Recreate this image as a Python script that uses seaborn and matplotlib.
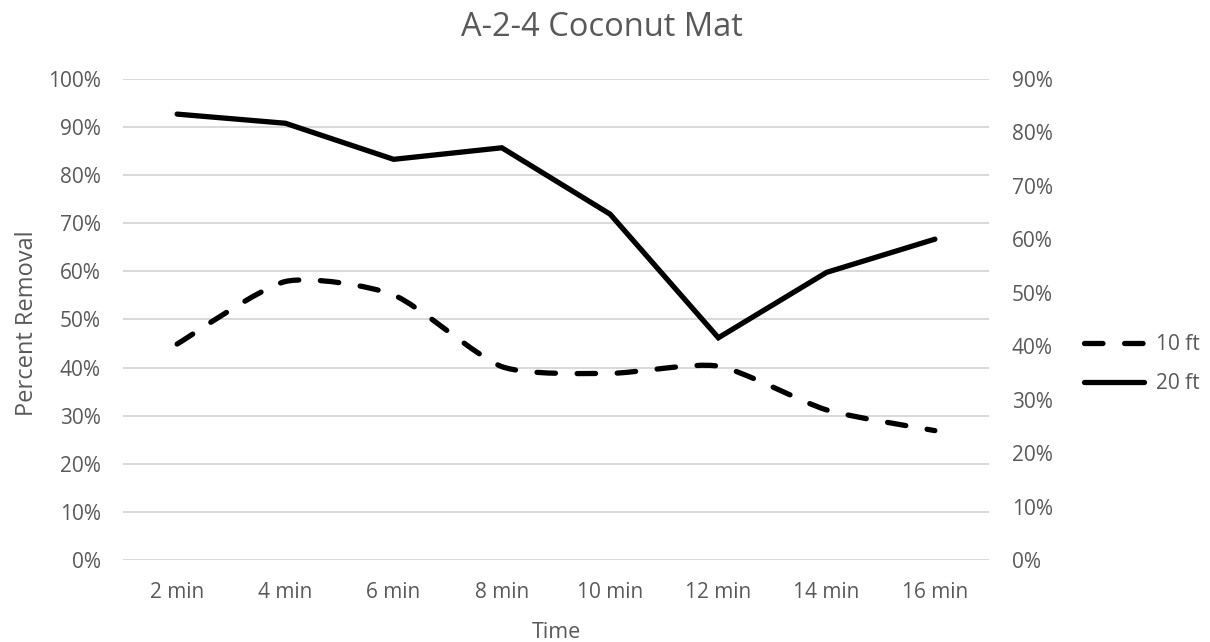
import numpy as np
import pandas as pd
import matplotlib
matplotlib.use("Agg")
import matplotlib.pyplot as plt
from matplotlib.path import Path
from matplotlib.patches import PathPatch
from matplotlib.lines import Line2D
from matplotlib.ticker import PercentFormatter, MultipleLocator
import seaborn as sns

# ---- data ----
times = ["2 min", "4 min", "6 min", "8 min", "10 min", "12 min", "14 min", "16 min"]
removal_10ft = [0.449, 0.579, 0.551, 0.402, 0.388, 0.403, 0.312, 0.269]
removal_20ft = [0.927, 0.908, 0.833, 0.857, 0.719, 0.462, 0.598, 0.667]
series_names = ["10 ft", "20 ft"]

sns.set_theme(style="white")
plt.rcParams['font.family'] = ['Open Sans', 'DejaVu Sans']

TXT = "#595959"
GRID = "#d9d9d9"
LW = 3.8
DASH = (0, (3.5, 4.1))
FS = 15

W, H = 1210, 642
L, R, T, B = 123, 989, 79, 560
fig = plt.figure(figsize=(W / 100, H / 100), dpi=100)
ax = fig.add_axes([L / W, 1 - B / H, (R - L) / W, (B - T) / H])

df = pd.DataFrame({"Time": times, "pos": np.arange(len(times)),
                   "r10": removal_10ft, "r20": removal_20ft})

# solid line (20 ft)
sns.lineplot(data=df, x="pos", y="r20", ax=ax, color="black", linewidth=LW,
             solid_capstyle="round", solid_joinstyle="miter", legend=False)

# smoothed dashed line (10 ft) - Bezier smoothing between the data points
xs = df["pos"].to_numpy(dtype=float)
ys = df["r10"].to_numpy(dtype=float)
P = np.column_stack([xs, ys])
verts = [tuple(P[0])]
codes = [Path.MOVETO]
n = len(P)
k = 1.0 / 9.0
for i in range(n - 1):
    p0 = P[i - 1] if i > 0 else P[i]
    p1 = P[i]
    p2 = P[i + 1]
    p3 = P[i + 2] if i + 2 < n else P[i + 1]
    c1 = p1 + (p2 - p0) * k
    c2 = p2 - (p3 - p1) * k
    verts += [tuple(c1), tuple(c2), tuple(p2)]
    codes += [Path.CURVE4] * 3
patch = PathPatch(Path(verts, codes), facecolor="none", edgecolor="black",
                  linewidth=LW, linestyle=DASH, capstyle="round",
                  joinstyle="round", transform=ax.transData)
ax.add_patch(patch)

ax.set_xlim(-0.5, len(times) - 0.5)
ax.set_ylim(0, 1.0)
ax.set_xticks(df["pos"])
ax.set_xticklabels(times)
ax.yaxis.set_major_locator(MultipleLocator(0.1))
ax.yaxis.set_major_formatter(PercentFormatter(1.0, decimals=0))
ax.grid(axis="y", color=GRID, linewidth=1.4)
ax.grid(axis="x", visible=False)
for s in ax.spines.values():
    s.set_visible(False)
ax.tick_params(axis="both", length=0, labelsize=FS, colors=TXT)
ax.tick_params(axis="x", pad=16)
ax.tick_params(axis="y", pad=16)

ax.set_xlabel("Time", fontsize=15.5, color=TXT)
ax.xaxis.label.set_va("baseline")
ax.xaxis.set_label_coords(0.5, (B - 638) / (B - T))
ax.set_ylabel("Percent Removal", fontsize=17, color=TXT)
ax.yaxis.label.set_va("baseline")
ax.yaxis.set_label_coords((33 - L) / (R - L), (B - 323) / (B - T))

ax2 = ax.twinx()
ax2.set_ylim(0, 0.9)
ax2.yaxis.set_major_locator(MultipleLocator(0.1))
ax2.yaxis.set_major_formatter(PercentFormatter(1.0, decimals=0))
ax2.grid(False)
for s in ax2.spines.values():
    s.set_visible(False)
ax2.tick_params(axis="y", length=0, labelsize=FS, colors=TXT, pad=16.5)

fig.text(602 / W, 1 - 36 / H, "A-2-4 Coconut Mat", ha="center", va="baseline",
         fontsize=23.5, color=TXT)

handles = [Line2D([], [], color="black", linewidth=LW, linestyle=DASH,
                  dash_capstyle="round"),
           Line2D([], [], color="black", linewidth=LW, solid_capstyle="round")]
leg = fig.legend(handles, series_names, loc="center left",
                 bbox_to_anchor=(1084 / W, 1 - 364 / H), frameon=False,
                 fontsize=FS, handlelength=2.9, handletextpad=0.55,
                 labelspacing=0.85, borderpad=0, borderaxespad=0,
                 labelcolor=TXT)

fig.savefig("out.png", dpi=100)
